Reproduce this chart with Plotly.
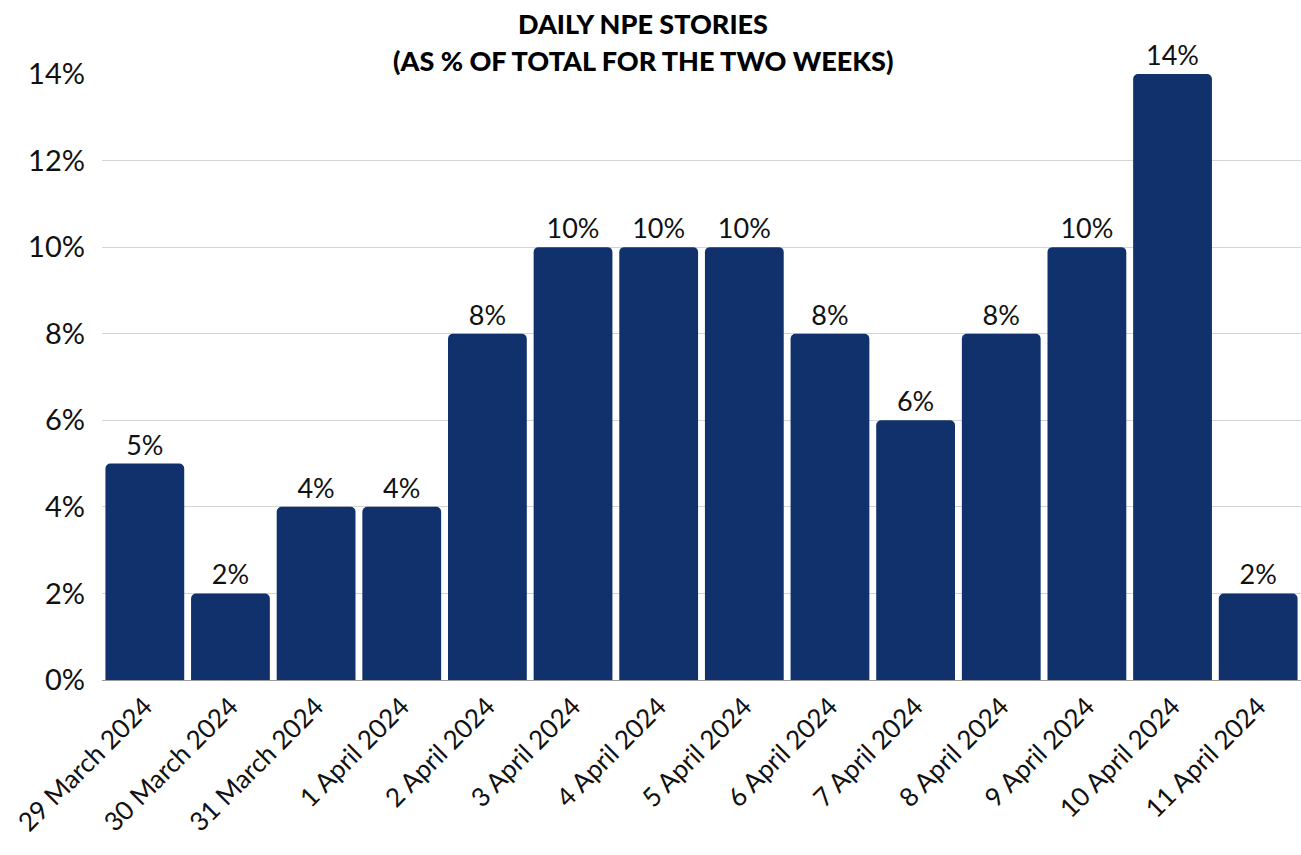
import plotly.graph_objects as go

dates = [
    "29 March 2024", "30 March 2024", "31 March 2024", "1 April 2024",
    "2 April 2024", "3 April 2024", "4 April 2024", "5 April 2024",
    "6 April 2024", "7 April 2024", "8 April 2024", "9 April 2024",
    "10 April 2024", "11 April 2024",
]
share_pct = [5, 2, 4, 4, 8, 10, 10, 10, 8, 6, 8, 10, 14, 2]
y_ticks = [0, 2, 4, 6, 8, 10, 12, 14]
y_tick_text = [f"{v}%" for v in y_ticks]
bar_labels = [f"{v}%" for v in share_pct]

BAR = "#10316B"
FONT = "Lato"
INK = "#111111"

fig = go.Figure(
    go.Bar(
        x=dates,
        y=share_pct,
        text=bar_labels,
        texttemplate="%{text}",
        marker=dict(color=BAR, line=dict(width=0)),
        textposition="outside",
        textfont=dict(family=FONT, size=27, color=INK),
        cliponaxis=False,
        hoverinfo="skip",
    )
)

# two-line heading above the plot area
title_lines = ["DAILY NPE STORIES", "(AS % OF TOTAL FOR THE TWO WEEKS)"]
for line, ypos in zip(title_lines, [1.083, 1.0215]):
    fig.add_annotation(
        text=line,
        xref="paper", yref="paper",
        x=0.451, y=ypos,
        xanchor="center", yanchor="middle",
        showarrow=False,
        font=dict(family=FONT, size=27, color="#000000", weight=900),
    )

fig.update_layout(
    width=1301,
    height=855,
    margin=dict(l=102, r=0, t=74, b=175),
    paper_bgcolor="white",
    plot_bgcolor="white",
    bargap=0.08,
    barcornerradius=5,
    showlegend=False,
    font=dict(family=FONT, color=INK),
)

fig.update_xaxes(
    tickangle=-45,
    tickfont=dict(family=FONT, size=26, color=INK),
    showgrid=False,
    showline=True,
    linecolor="#9a9a9a",
    linewidth=1,
    ticks="",
    automargin=False,
)

fig.update_yaxes(
    range=[0, 14],
    tickvals=y_ticks,
    ticktext=y_tick_text,
    tickfont=dict(family=FONT, size=29, color=INK),
    showgrid=True,
    gridcolor="#d4d4d4",
    gridwidth=1,
    zeroline=False,
    ticks="",
    ticklabelstandoff=16,
    automargin=False,
)

fig.write_html("out.html")
